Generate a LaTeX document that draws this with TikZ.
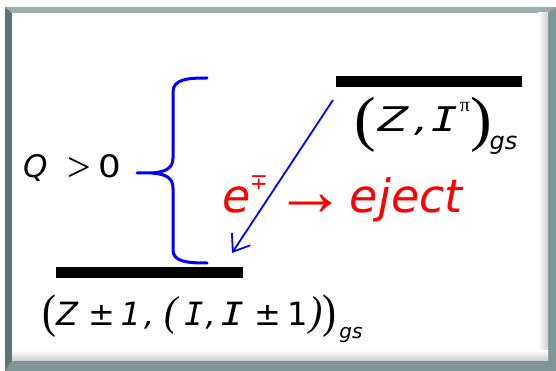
\documentclass[tikz,border=0pt]{standalone}
\usepackage{graphicx}
\usepackage{fontspec}
\setmainfont{DejaVu Sans}
\newfontfamily\pf{Liberation Serif}
\newfontfamily\mf{DejaVu Sans Mono}
\usetikzlibrary{arrows.meta}
\definecolor{frameA}{RGB}{128,150,150}
\definecolor{frameD}{RGB}{92,114,116}
\definecolor{frameL}{RGB}{155,175,175}
\definecolor{pureblue}{RGB}{0,0,255}
\definecolor{purered}{RGB}{255,0,0}
% size, raise, xscale, yscale, char
\newcommand\mypar[5]{\raisebox{#2}{\scalebox{#3}[#4]{\pf\fontsize{#1}{#1}\selectfont #5}}}
\newcommand\myI[1]{\scalebox{#1}[1]{\mf\itshape I}}
\begin{document}
\begin{tikzpicture}[x=1pt,y=-1pt,
  bar/.style={fill=black, draw=none, minimum height=11pt, inner sep=0pt},
  brc/.style={draw=pureblue, line width=3pt, line cap=round, line join=round},
  lbl/.style={inner sep=0pt, anchor=base west}]
\useasboundingbox (0,0) rectangle (556,371);
% frame
\fill[frameA] (5,7) rectangle (556,371);
\fill[frameD] (5,7) -- (12,13) -- (12,360) -- (5,371) -- cycle;
\fill[frameL] (5,7) -- (556,7) -- (548,13) -- (12,13) -- cycle;
\fill[white] (12,13) rectangle (548,360);
\shade[left color=white, right color=black!18] (538,13) rectangle (548,360);
\shade[top color=white, bottom color=black!18] (12,350) rectangle (548,360);
% levels
\node[bar, minimum width=186pt] (top) at (429,81.5) {};
\node[bar, minimum width=187pt] (bot) at (149.5,272.5) {};
% brace
\draw[brc] (207,78) .. controls (188,78) and (173,79) .. (173,92) -- (173,158) .. controls (173,168) and (166,172) .. (152,173) -- (137,173);
\draw[brc] (152,173) .. controls (166,174) and (173,178) .. (173,188) -- (173,250) .. controls (173,262) and (188,263) .. (207,263);
% decay arrow
\coordinate (a0) at (333,100);
\coordinate (a1) at (232,253);
\draw[pureblue, line width=1.8pt, -{Straight Barb[length=15pt,width=22pt]}] (a0) -- (a1);
% labels
\node[lbl] (q) at (23,178) {\fontsize{31}{37}\selectfont\textit{Q}\hspace{20pt}\raisebox{-4pt}{\pf\fontsize{42}{42}\selectfont >}\hspace{7pt}\scalebox{1.15}[1]{0}};
\node[lbl] (tl) at (354,132) {\fontsize{34}{40}\selectfont\mypar{50}{-8pt}{1.3}{1.22}{(}\hspace{2pt}\scalebox{1.3}[1]{\textit{Z}\hspace{4pt}\textit{,}}\hspace{3pt}\myI{1.3}\hspace{2pt}\raisebox{20pt}{\pf\fontsize{20}{20}\selectfont π}\hspace{1pt}\mypar{50}{-8pt}{1.3}{1.22}{)}\hspace{-3pt}\raisebox{-18pt}{\fontsize{24}{24}\selectfont\textit{gs}}};
\node[lbl] (bl) at (42,325) {\fontsize{32}{38}\selectfont\mypar{40}{-2pt}{1.05}{1.18}{(}\textit{Z} ±\hspace{5pt}\textit{1}\hspace{3pt}\textit{,}\hspace{10pt}\mypar{36}{0pt}{1.1}{1.16}{\itshape(}\hspace{7pt}\myI{1}\hspace{2pt}\textit{,}\hspace{5pt}\myI{1.2} ±\hspace{7pt}1\hspace{1pt}\mypar{36}{0pt}{1.1}{1.16}{\itshape)}\mypar{40}{-2pt}{1.05}{1.18}{)}\hspace{3pt}\raisebox{-13pt}{\fontsize{20}{20}\selectfont\textit{gs}}};
\node[lbl, text=purered] (ej) at (222,213) {\fontsize{46}{50}\selectfont\textit{e}\hspace{-1pt}\raisebox{23pt}{\fontsize{22}{22}\selectfont ∓}\hspace{7pt}\raisebox{-2.5pt}{\pf\fontsize{72}{72}\selectfont →}\hspace{3pt}\textit{eject}};
\end{tikzpicture}
\end{document}
